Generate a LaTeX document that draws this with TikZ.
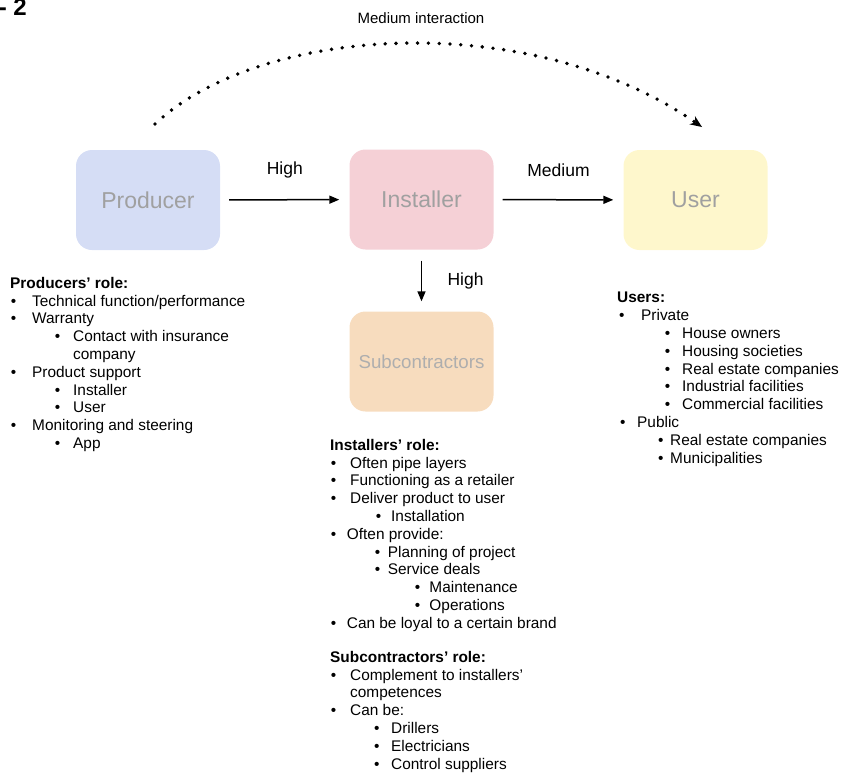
\documentclass[tikz,border=0pt]{standalone}
\usepackage{fontspec}
\setmainfont{Liberation Sans}
\usetikzlibrary{arrows.meta}
\definecolor{prodblue}{HTML}{D5DDF5}
\definecolor{instpink}{HTML}{F5D0D6}
\definecolor{useryellow}{HTML}{FEF7CC}
\definecolor{subpeach}{HTML}{F7DCBE}
\definecolor{boxtext}{HTML}{A0A0A0}
% bullet at offset #1, text starts at offset #2
\newcommand\bul[2]{\makebox[#2pt][l]{\hspace*{#1pt}\textbullet}}
\newcommand\ind[1]{\hspace*{#1pt}}
\tikzset{
  actor/.style={rounded corners=16pt, minimum width=144pt, minimum height=100pt,
    text=boxtext, font=\fontsize{23}{27}\selectfont},
  flow/.style={-{Triangle[length=10pt,width=8pt]}, line width=1.5pt,
    shorten <=9pt, shorten >=10pt},
  flowlabel/.style={font=\fontsize{17.5}{20}\selectfont},
  rolelist/.style={anchor=north west, align=left, inner sep=0pt,
    font=\fontsize{15.4}{17.8}\selectfont},
}
\begin{document}
\begin{tikzpicture}[x=1pt, y=-1pt]
\useasboundingbox (0,0) rectangle (841,774);
\node[anchor=base east, inner sep=0pt, font=\fontsize{24}{28}\selectfont\bfseries] (fignum) at (27,15) {- 2};
% actors
\node[actor, fill=prodblue] (producer) at (148,200) {Producer};
\node[actor, fill=instpink] (installer) at (421.5,199.5) {Installer};
\node[actor, fill=useryellow] (user) at (695.5,200) {User};
\node[actor, fill=subpeach, text=boxtext!85, font=\fontsize{18.7}{22}\selectfont] (subcon) at (421.5,361.5) {Subcontractors};
% interactions
\draw[flow] (producer) -- node[flowlabel, midway, yshift=30pt] (lblprod) {High} (installer);
\draw[flow] (installer) -- node[flowlabel, midway, yshift=30pt] (lbluser) {Medium} (user);
\draw[flow, shorten <=11pt] (installer) -- node[flowlabel, midway, right=22pt] (lblsub) {High} (subcon);
\coordinate (arcstart) at (155,124);
\coordinate (arcend) at (702,127);
\draw[line width=3.8pt, line cap=round, dash pattern=on 0pt off 10.8pt,
  -{Stealth[length=12pt,width=10pt,line width=0pt]}]
  (arcstart) .. controls (260,25) and (530,8) .. (arcend);
\node[font=\fontsize{15}{18}\selectfont] (lblarc) at (421,18) {Medium interaction};
% roles
\node[rolelist] (prodrole) at (10,277) {\textbf{Producers' role:}\\
\bul{0.6}{22}Technical function/performance\\
\bul{0.6}{22}Warranty\\
\bul{44.6}{63}Contact with insurance\\
\ind{63}company\\
\bul{0.6}{22}Product support\\
\bul{44.6}{63}Installer\\
\bul{44.6}{63}User\\
\bul{0.6}{22}Monitoring and steering\\
\bul{44.6}{63}App};
\node[rolelist] (userrole) at (617,292) {\textbf{Users:}\\
\bul{2}{24}Private\\
\bul{47.6}{65}House owners\\
\bul{47.6}{65}Housing societies\\
\bul{47.6}{65}Real estate companies\\
\bul{47.6}{65}Industrial facilities\\
\bul{47.6}{65}Commercial facilities\\
\bul{3}{20}Public\\
\bul{41}{53}Real estate companies\\
\bul{41}{53}Municipalities};
\node[rolelist] (instrole) at (330,439) {\textbf{Installers' role:}\\
\bul{0.6}{20}Often pipe layers\\
\bul{0.6}{20}Functioning as a retailer\\
\bul{0.6}{20}Deliver product to user\\
\bul{45.6}{61}Installation\\
\bul{0.6}{16.7}Often provide:\\
\bul{44.6}{57.7}Planning of project\\
\bul{44.6}{57.7}Service deals\\
\bul{84.6}{99.3}Maintenance\\
\bul{84.6}{99.3}Operations\\
\bul{0.6}{16.7}Can be loyal to a certain brand};
\node[rolelist] (subrole) at (330,651) {\textbf{Subcontractors' role:}\\
\bul{0.6}{20}Complement to installers'\\
\ind{20}competences\\
\bul{0.6}{20}Can be:\\
\bul{44}{61}Drillers\\
\bul{44}{61}Electricians\\
\bul{44}{61}Control suppliers};
\end{tikzpicture}
\end{document}
